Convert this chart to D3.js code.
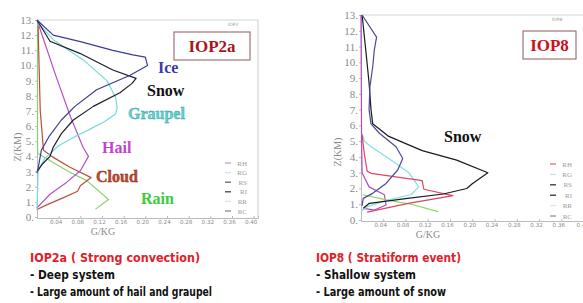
<!DOCTYPE html>
<html>
<head>
<meta charset="utf-8">
<script src="https://cdn.jsdelivr.net/npm/d3@7"></script>
<style>
  body { margin: 0; background: #fff; }
  svg { display: block; }
</style>
</head>
<body>
<svg id="chart" width="583" height="303"></svg>
<script>
// mixing ratio profiles, points are [g/kg, km]
const zTicks = d3.range(0, 14)
const xTicks = [0.04, 0.08, 0.12, 0.16, 0.20, 0.24, 0.28, 0.32, 0.36, 0.40]
const legendNames = ["RH", "RG", "RS", "RI", "RR", "RC"]

// IOP2a
const iop2Ice = [[0, 13], [0.03, 12.0], [0.08, 11.57], [0.14, 11.0], [0.177, 10.7], [0.2, 10.55], [0.204, 10.0], [0.172, 9.35], [0.11, 8.4], [0.07, 7.3], [0.045, 6.4], [0.022, 5.3], [0.008, 4.4], [0.002, 3.2], [0, 2.9]]
const iop2Snow = [[0, 13], [0.024, 11.6], [0.079, 10.8], [0.14, 9.7], [0.183, 9.15], [0.175, 8.8], [0.153, 8.2], [0.104, 7.3], [0.067, 6.4], [0.045, 5.5], [0.03, 4.6], [0.024, 4.0], [0.01, 3.5], [0, 3.0]]
const iop2Graupel = [[0.002, 12.8], [0.03, 11.7], [0.086, 10.35], [0.129, 9.0], [0.145, 7.9], [0.148, 7.2], [0.145, 6.8], [0.125, 6.3], [0.098, 5.8], [0.067, 5.25], [0.04, 4.7], [0.014, 3.85], [0.002, 3.0], [0, 0.5]]
const iop2Hail = [[0, 13], [0.035, 9.3], [0.062, 6.6], [0.085, 4.6], [0.095, 4.0], [0.08, 3.05], [0.055, 2.3], [0.024, 1.5], [0, 0.6]]
const iop2Cloud = [[0.002, 12.6], [0.006, 7.0], [0.012, 4.4], [0.027, 4.0], [0.06, 3.3], [0.1, 2.6], [0.08, 2.06], [0.075, 1.7], [0.049, 1.28], [0.021, 0.85], [0, 0.5]]
const iop2Rain = [[0.001, 12.9], [0.001, 4.2], [0.058, 3.0], [0.092, 2.4], [0.132, 1.15], [0.108, 0.52]]

// IOP8
const iop8Ice = [[0.002, 13], [0.028, 11.6], [0.024, 10.8], [0.021, 9.7], [0.016, 8.45], [0.0145, 7.0], [0.018, 6.1], [0.033, 5.5], [0.063, 4.65], [0.075, 3.9], [0.066, 3.17], [0.045, 2.32], [0.021, 1.69], [0.004, 1.37], [0.002, 0.9]]
const iop8Snow = [[0.002, 13], [0.0085, 10.8], [0.0145, 8.7], [0.018, 7.0], [0.021, 6.1], [0.05, 5.3], [0.11, 4.4], [0.172, 3.8], [0.228, 3.0], [0.2, 2.3], [0.19, 2.0], [0.148, 1.65], [0.08, 1.35], [0.015, 1.06], [0.004, 0.74]]
const iop8Graupel = [[0.002, 5.5], [0.006, 5.0], [0.018, 4.65], [0.05, 3.9], [0.086, 3.0], [0.104, 2.1], [0.09, 1.6], [0.047, 1.27], [0.012, 0.85], [0.002, 0.6]]
const iop8Hail = [[0.002, 5.4], [0.006, 4.2], [0.011, 3.1], [0.018, 2.96], [0.11, 2.5], [0.113, 1.95], [0.165, 1.55], [0.15, 1.45], [0.085, 1.05], [0.011, 0.5]]
const iop8Rain = [[0.003, 1.6], [0.05, 1.25], [0.09, 1.0], [0.139, 0.53]]
const iop8Cloud = [[0, 13], [0.001, 5], [0.002, 3.0], [0.0145, 2.1], [0.042, 1.6], [0.045, 0.95], [0.024, 0.63], [0.005, 0.74]]

const svg = d3.select("#chart")

function drawPanel(p) {
  const x = d3.scaleLinear().domain([0, 0.408]).range([p.x0, p.x1])
  const y = d3.scaleLinear().domain([0, 13]).range([p.y0, p.y13])
  const g = svg.append("g")

  // frame
  g.append("path")
    .attr("d", "M" + x(0) + "," + y(13) + "H" + p.x1 + "V" + y(0))
    .attr("fill", "none").attr("stroke", "#d4d4d4").attr("stroke-width", 1.2)

  const yAxis = d3.axisLeft(y).tickValues(zTicks).tickSize(2).tickFormat(d => d + ".")
  g.append("g").attr("transform", "translate(" + x(0) + ",0)").call(yAxis)
    .call(a => a.select(".domain").attr("stroke", "#bbb"))
    .call(a => a.selectAll("line").attr("stroke", "#bbb"))
    .call(a => a.selectAll("text").attr("fill", "#8a8a8a").attr("font-family", "Liberation Serif")
      .attr("font-size", 11).attr("x", -3))

  const xAxis = d3.axisBottom(x).tickValues(xTicks).tickSize(-2).tickFormat(p.xFormat)
  g.append("g").attr("transform", "translate(0," + (y(0) + 1) + ")").call(xAxis)
    .call(a => a.select(".domain").attr("stroke", "#bbb"))
    .call(a => a.selectAll("line").attr("stroke", "#bbb"))
    .call(a => a.selectAll("text").attr("fill", "#8a8a8a").attr("font-family", "DejaVu Sans")
      .attr("font-size", 5.6).attr("dx", -3).attr("y", 2))

  g.append("text").attr("x", p.gkgX).attr("y", y(0) + 18)
    .attr("text-anchor", "middle").attr("fill", "#8a8a8a")
    .attr("font-family", "Liberation Serif").attr("font-size", 10).text("G/KG")

  g.append("text").attr("transform", "translate(" + p.zx + "," + p.zy + ") rotate(-90)")
    .attr("text-anchor", "middle").attr("fill", "#8a8a8a")
    .attr("font-family", "Liberation Serif").attr("font-size", 10).text("Z(KM)")

  g.append("text").attr("x", p.tagX).attr("y", p.tagY)
    .attr("fill", "#999").attr("font-family", "DejaVu Sans").attr("font-size", 4.5).text(p.tag)

  const line = d3.line().x(d => x(d[0])).y(d => y(d[1]))
  p.series.forEach(s => {
    g.append("path").datum(s.data).attr("d", line)
      .attr("fill", "none").attr("stroke", s.color).attr("stroke-width", 1.2)
      .attr("stroke-linejoin", "round")
  })

  // legend
  const leg = g.append("g").selectAll("g").data(legendNames).enter().append("g")
    .attr("transform", (d, i) => "translate(0," + (p.legY + i * p.legStep) + ")")
  leg.append("line").attr("x1", p.legX).attr("x2", p.legX + 6)
    .attr("stroke", (d, i) => p.legColors[i]).attr("stroke-width", 1.3)
  leg.append("text").attr("x", p.legX + 22).attr("y", 2.5).attr("text-anchor", "end")
    .attr("fill", "#9a9a9a").attr("font-family", "Liberation Serif").attr("font-size", 7)
    .text(d => d)

  // title box
  g.append("rect").attr("x", p.box[0]).attr("y", p.box[1]).attr("width", p.box[2]).attr("height", p.box[3])
    .attr("fill", "#fff").attr("stroke", "#8a5a5a").attr("stroke-width", 1)
  g.append("text").attr("x", p.box[0] + p.box[2] / 2).attr("y", p.box[1] + p.box[3] / 2 + 6)
    .attr("text-anchor", "middle").attr("fill", p.titleColor)
    .attr("font-family", "Liberation Serif").attr("font-weight", "bold").attr("font-size", 17)
    .text(p.title)

  p.labels.forEach(l => {
    g.append("text").attr("x", l.x).attr("y", l.y).attr("fill", l.color)
      .attr("stroke", l.outline || "none").attr("stroke-width", 0.4)
      .attr("font-family", "Liberation Serif").attr("font-weight", "bold").attr("font-size", 16)
      .text(l.text)
  })
}

drawPanel({
  x0: 37, x1: 258, y0: 217, y13: 20, xFormat: d3.format(".2f"),
  gkgX: 103, zx: 21, zy: 147, tag: "IOP2", tagX: 228, tagY: 26,
  title: "IOP2a", titleColor: "#a8141c", box: [174, 32, 76, 28],
  legX: 225, legY: 163, legStep: 9.6,
  legColors: ["#b9a6b9", "#cfe6e6", "#666", "#444", "#d6e8cc", "#8a8a8a"],
  series: [
    { data: iop2Rain, color: "#86d46e" },
    { data: iop2Cloud, color: "#b8503a" },
    { data: iop2Hail, color: "#b64fc6" },
    { data: iop2Graupel, color: "#74dada" },
    { data: iop2Snow, color: "#1e1e2a" },
    { data: iop2Ice, color: "#3c3c94" }
  ],
  labels: [
    { text: "Ice", x: 158, y: 73, color: "#3a3aa8" },
    { text: "Snow", x: 147, y: 96, color: "#111" },
    { text: "Graupel", x: 128, y: 119, color: "#5ed4d4", outline: "#3a9a9a" },
    { text: "Hail", x: 102, y: 153, color: "#c444c8" },
    { text: "Cloud", x: 96, y: 182, color: "#c04a2a", outline: "#7a2a1a" },
    { text: "Rain", x: 141, y: 204, color: "#3ccc3c" }
  ]
})

drawPanel({
  x0: 361, x1: 588, y0: 220, y13: 15, xFormat: d => d == 0.4 ? "0.4" : d3.format(".2f")(d),
  gkgX: 428, zx: 341, zy: 152, tag: "IOP8", tagX: 552, tagY: 21,
  title: "IOP8", titleColor: "#cc1020", box: [523, 31, 53, 28],
  legX: 550, legY: 164, legStep: 10.4,
  legColors: ["#e26a7a", "#bde8e8", "#333", "#333", "#d8ecd0", "#9a8aa0"],
  series: [
    { data: iop8Cloud, color: "#b04ac8" },
    { data: iop8Rain, color: "#8ad85e" },
    { data: iop8Graupel, color: "#86dede" },
    { data: iop8Hail, color: "#e0445e" },
    { data: iop8Snow, color: "#1a1a22" },
    { data: iop8Ice, color: "#4a4a98" }
  ],
  labels: [
    { text: "Snow", x: 444, y: 142, color: "#111" }
  ]
})

// notes under the charts
const notes = [
  { x: 30, lines: ["IOP2a ( Strong convection)", "- Deep system", "- Large amount of hail and graupel"], widths: [170, 85, 182] },
  { x: 316, lines: ["IOP8 ( Stratiform event)", "- Shallow system", "- Large amount of snow"], widths: [145, 100, 130] }
]
notes.forEach(n => {
  n.lines.forEach((t, i) => {
    svg.append("text").attr("x", n.x).attr("y", 262 + i * 17)
      .attr("fill", i == 0 ? "#e0202a" : "#111")
      .attr("font-family", "DejaVu Sans").attr("font-weight", "bold").attr("font-size", 11.5)
      .attr("textLength", n.widths[i]).attr("lengthAdjust", "spacingAndGlyphs")
      .text(t)
  })
})
</script>
</body>
</html>
